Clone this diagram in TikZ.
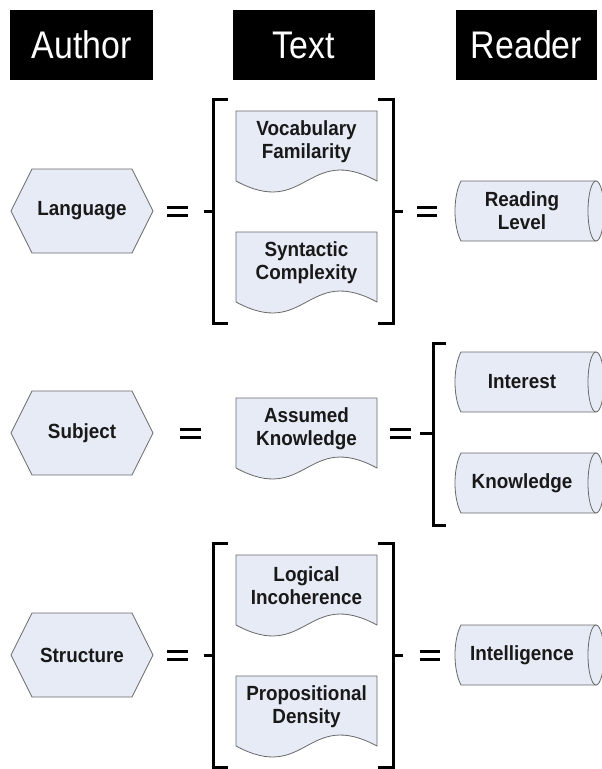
\documentclass[tikz,border=0pt]{standalone}
\usepackage{fontspec}
\setmainfont{Liberation Sans}
\newfontfamily\headfont{Liberation Sans}[FakeStretch=0.88]
\newfontfamily\labelfont{Liberation Sans}[FakeStretch=0.92]
\definecolor{boxfill}{RGB}{231,235,246}
\definecolor{edgegray}{RGB}{105,105,105}

% hexagon for an author trait: name, centre y, label
\newcommand\authorhex[3]{%
  \draw[shapefill] (11,#2) -- (32,#2-42) -- (132,#2-42) -- (153,#2)
    -- (132,#2+42) -- (32,#2+42) -- cycle;
  \node[lbl] (#1) at (82,#2) {#3};}

% document shape with a wavy bottom: name, top y, label
\newcommand\textdoc[3]{%
  \draw[shapefill] (236,#2) -- (377,#2) -- (377,#2+70)
    .. controls (306.5,#2+32) and (306.5,#2+108) .. (236,#2+70) -- cycle;
  \node[lbl] (#1) at (306.5,#2+31) {#3};}

% horizontal cylinder for a reader trait: name, centre y, label
\newcommand\readercyl[3]{%
  \draw[shapefill] (461,#2-30) -- (596,#2-30) -- (596,#2+30) -- (461,#2+30)
    .. controls (453,#2+15) and (453,#2-15) .. (461,#2-30) -- cycle;
  \draw[shapefill] (596,#2) ellipse [x radius=8, y radius=30];
  \node[lbl] (#1) at (522,#2) {#3};}

% equals sign: left x, right x, centre y
\newcommand\eqsign[3]{%
  \fill (#1,#3-5.5) rectangle (#2,#3-2.5);
  \fill (#1,#3+2.5) rectangle (#2,#3+5.5);}

\begin{document}
\begin{tikzpicture}[x=1pt,y=-1pt,
  shapefill/.style={fill=boxfill, draw=edgegray, line width=0.8pt},
  lbl/.style={font=\labelfont\bfseries\fontsize{20.5}{23}\selectfont, align=center,
    text=black!90, inner sep=0pt},
  head/.style={fill=black, text=white, font=\headfont\fontsize{38.5}{42}\selectfont,
    minimum height=70pt, inner sep=0pt},
  brk/.style={line width=3pt, line join=miter}]
\useasboundingbox (0,0) rectangle (602,769);
\clip (0,0) rectangle (602,769);
\fill[white] (0,0) rectangle (602,769);

% column headings
\node[head, minimum width=143pt] (author) at (81.5,45) {Author};
\node[head, minimum width=142pt] (text) at (304,45) {Text};
\node[head, minimum width=141pt] (reader) at (526.5,45) {Reader};

% ---- row 1: language ----
\authorhex{language}{211}{Language}
\eqsign{167}{188}{211}
\coordinate (b1lt) at (204,211);
\coordinate (b1l) at (213,211);
\draw[brk] (228,99) -- (213,99) -- (213,323) -- (228,323);
\draw[brk] (b1lt) -- (b1l);
\textdoc{vocab}{111}{Vocabulary\\Familarity}
\textdoc{syntax}{232}{Syntactic\\Complexity}
\coordinate (b1r) at (393,211);
\coordinate (b1rt) at (403,211);
\draw[brk] (378,99) -- (393,99) -- (393,323) -- (378,323);
\draw[brk] (b1r) -- (b1rt);
\eqsign{417}{437}{211}
\readercyl{readlevel}{211}{Reading\\Level}

% ---- row 2: subject ----
\authorhex{subject}{433}{Subject}
\eqsign{180}{201}{433}
\textdoc{assumed}{398}{Assumed\\Knowledge}
\eqsign{390}{411}{433}
\coordinate (b2lt) at (420,433);
\coordinate (b2l) at (433,433);
\draw[brk] (446,343) -- (433,343) -- (433,525) -- (446,525);
\draw[brk] (b2lt) -- (b2l);
\readercyl{interest}{382}{Interest}
\readercyl{knowledge}{483}{Knowledge}

% ---- row 3: structure ----
\authorhex{structure}{655}{Structure}
\eqsign{167}{188}{655}
\coordinate (b3lt) at (204,655);
\coordinate (b3l) at (213,655);
\draw[brk] (228,543) -- (213,543) -- (213,767) -- (228,767);
\draw[brk] (b3lt) -- (b3l);
\textdoc{logical}{555}{Logical\\Incoherence}
\textdoc{propos}{676}{Propositional\\Density}
\coordinate (b3r) at (393,655);
\coordinate (b3rt) at (403,655);
\draw[brk] (378,543) -- (393,543) -- (393,767) -- (378,767);
\draw[brk] (b3r) -- (b3rt);
\eqsign{420}{440}{655}
\readercyl{intelligence}{655}{Intelligence}
\end{tikzpicture}
\end{document}
